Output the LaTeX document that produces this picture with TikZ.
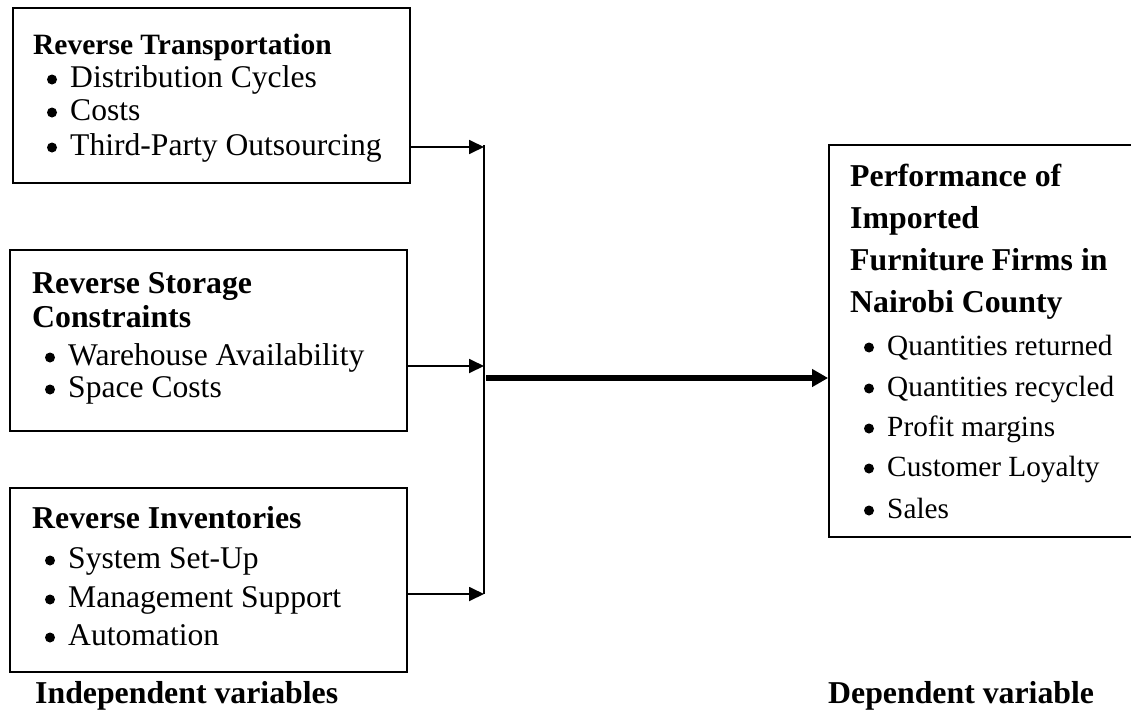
\documentclass[tikz,border=0pt]{standalone}
\usepackage{fontspec}
\setmainfont{Liberation Serif}
\usetikzlibrary{arrows.meta}
\newcommand\bitem[5][itm]{%
  \fill (#3-18,#4-7.5) circle (5pt);
  \node[#1] (#2) at (#3,#4) {#5};}
\begin{document}
\begin{tikzpicture}[x=1pt,y=-1pt,
  box/.style={draw, line width=1.8pt, inner sep=0pt},
  ttl/.style={anchor=base west, inner sep=0pt, font=\fontsize{31.8}{38}\selectfont\bfseries},
  ttlsmall/.style={ttl, font=\fontsize{29.5}{36}\selectfont\bfseries},
  itm/.style={anchor=base west, inner sep=0pt, font=\fontsize{31.6}{38}\selectfont},
  itmr/.style={itm, font=\fontsize{29.3}{35}\selectfont},
  conn/.style={line width=1.8pt},
  feedarrow/.style={conn, -{Triangle[length=15pt,width=14pt]}},
  mainarrow/.style={line width=6pt, -{Triangle[length=16pt,width=17pt]}}]
\useasboundingbox (0,0) rectangle (1131,709);

% Box 1
\node[box, minimum width=397pt, minimum height=175pt] (b1) at (211.5,95.5) {};
\node[ttlsmall] (t1) at (33,55) {Reverse Transportation};
\bitem{i11}{70}{87}{Distribution Cycles}
\bitem{i12}{70}{120}{Costs}
\bitem{i13}{70}{155}{Third-Party Outsourcing}

% Box 2
\node[box, minimum width=397pt, minimum height=181pt] (b2) at (208.5,340.5) {};
\node[ttl] (t2a) at (32,293) {Reverse Storage};
\node[ttl] (t2b) at (32,327) {Constraints};
\bitem{i21}{68}{365}{Warehouse Availability}
\bitem{i22}{68}{397}{Space Costs}

% Box 3
\node[box, minimum width=397pt, minimum height=184pt] (b3) at (208.5,580) {};
\node[ttl] (t3) at (32,528) {Reverse Inventories};
\bitem{i31}{68}{568}{System Set-Up}
\bitem{i32}{68}{607}{Management Support}
\bitem{i33}{68}{645}{Automation}

% Right box
\node[box, minimum width=321pt, minimum height=392pt] (rb) at (989.5,341) {};
\node[ttl] (r1) at (850,186) {Performance of};
\node[ttl] (r2) at (850,228) {Imported};
\node[ttl] (r3) at (850,270) {Furniture Firms in};
\node[ttl] (r4) at (850,312) {Nairobi County};
\bitem[itmr]{ri1}{887}{355}{Quantities returned}
\bitem[itmr]{ri2}{887}{396}{Quantities recycled}
\bitem[itmr]{ri3}{887}{436}{Profit margins}
\bitem[itmr]{ri4}{887}{476}{Customer Loyalty}
\bitem[itmr]{ri5}{887}{518}{Sales}

% Captions
\node[ttl] (cap1) at (35,703) {Independent variables};
\node[ttl] (cap2) at (828,703) {Dependent variable};

% Connectors
\coordinate (bt) at (484,145);
\coordinate (p1) at (484,147);
\coordinate (p2) at (484,366);
\coordinate (p3) at (484,594);
\coordinate (q) at (486,378);
\draw[conn] (bt) -- (p3);
\draw[feedarrow] (b1.east |- p1) -- (p1);
\draw[feedarrow] (b2.east |- p2) -- (p2);
\draw[feedarrow] (b3.east |- p3) -- (p3);
\draw[mainarrow] (q) -- (q -| rb.west);
\end{tikzpicture}
\end{document}
